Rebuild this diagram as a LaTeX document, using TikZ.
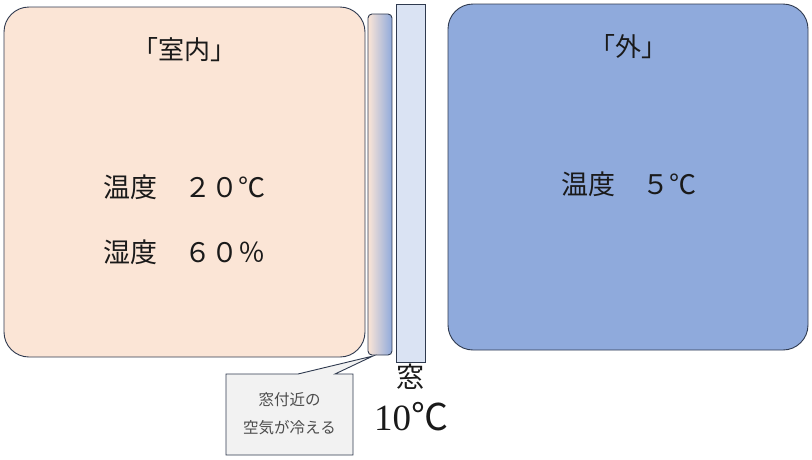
\documentclass[tikz,border=0pt]{standalone}
\usepackage{fontspec}
\setmainfont{Liberation Serif}
\newfontfamily\cjk{Noto Sans CJK JP}
\definecolor{peach}{HTML}{FBE5D6}
\definecolor{skyb}{HTML}{8FAADC}
\definecolor{winb}{HTML}{DAE3F3}
\definecolor{edge}{HTML}{2F3A4F}
\definecolor{callfill}{HTML}{F2F2F2}
\definecolor{txt}{HTML}{1A1A1A}
\tikzset{
  room/.style={draw=edge, line width=0.9pt, rounded corners=25pt},
  big/.style={font=\cjk\fontsize{27}{30}\selectfont, text=txt, inner sep=0pt},
  small/.style={font=\cjk\fontsize{15.5}{28}\selectfont, text=black!70, align=center, inner sep=0pt},
}
\begin{document}
\begin{tikzpicture}[x=1pt,y=-1pt]
\useasboundingbox (0,0) rectangle (812,459);
% rooms
\draw[room, fill=peach] (4,7) rectangle (365,357);
\draw[room, fill=skyb] (448,4) rectangle (808,350);
% cold air strip
\shade[left color=peach, right color=skyb, rounded corners=4pt] (368,14) rectangle (392,355);
\draw[draw=edge, line width=0.9pt, rounded corners=4pt] (368,14) rectangle (392,355);
\coordinate (tip) at (373,356);
% window
\draw[draw=edge, line width=0.9pt, fill=winb] (396,4) rectangle (425,362);
% callout
\draw[draw=edge, line width=0.9pt, fill=callfill] (226,374) -- (298,374) -- (tip) -- (335,374) -- (353,374) -- (353,455) -- (226,455) -- cycle;
\node[small] (call) at (289.5,414) {窓付近の\\空気が冷える};
% texts
\node[big, font=\cjk\fontsize{26}{30}\selectfont] (in) at (184,50) {「室内」};
\node[big] (t1) at (184,187) {温度　２０℃};
\node[big] (h1) at (184,252) {湿度　６０％};
\node[big, font=\cjk\fontsize{26}{30}\selectfont] (out) at (628,47) {「外」};
\node[big] (t2) at (629,184) {温度　５℃};
\node[big, font=\cjk\fontsize{28}{30}\selectfont] (win) at (410,377) {窓};
\node[inner sep=0pt, text=txt] (wt) at (411,417) {\fontsize{37}{40}\selectfont 10{\cjk ℃}};
\end{tikzpicture}
\end{document}
